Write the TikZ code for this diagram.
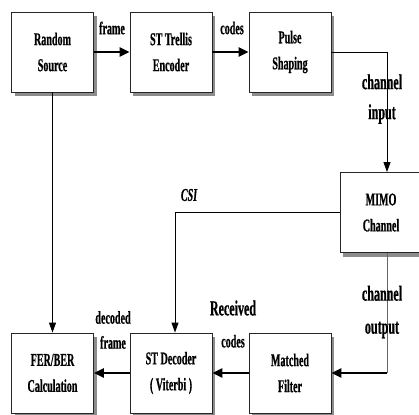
\documentclass[tikz,border=0pt]{standalone}
\usepackage{fontspec}
\usepackage{tikz}
\usetikzlibrary{arrows.meta,shadows}
\newfontfamily\diafont{Liberation Serif}[FakeStretch=0.56,FakeBold=0.6]

\begin{document}
\begin{tikzpicture}[x=1pt,y=-1pt]
        \tikzset{Block/.style={draw=black!85, line width=0.9pt, fill=white,
                minimum width=82pt, minimum height=80pt, align=center,
                font=\diafont\bfseries\fontsize{18}{26}\selectfont,
                drop shadow={shadow xshift=3pt, shadow yshift=-4pt, fill=black!45, opacity=1}}}
        \tikzset{Label/.style={align=center, inner sep=0pt,
                font=\diafont\bfseries\fontsize{18}{25}\selectfont}}
        \tikzset{BigLabel/.style={Label, font=\diafont\bfseries\fontsize{21.5}{30}\selectfont}}
        \tikzset{Thick/.style={line width=2.8pt, -{Triangle[length=10pt,width=9pt]}}}
        \tikzset{Thin/.style={line width=0.9pt, -{Triangle[length=10pt,width=7pt]}}}
        \useasboundingbox (0,0) rectangle (419,414);
        \clip (0,0) rectangle (419,414);
        \fill[white] (0,0) rectangle (419,414);
        \node[Block] (Src) at (52.5,52) {Random\\Source};
        \node[Block] (Enc) at (171,52) {ST Trellis\\Encoder};
        \node[Block] (Pul) at (290,52) {Pulse\\Shaping};
        \node[Block] (Mimo) at (381,212.5) {MIMO\\Channel};
        \node[Block] (Fer) at (52.5,373) {FER/BER\\Calculation};
        \node[Block] (Dec) at (171,373) {ST Decoder\\( Viterbi )};
        \node[Block] (Mf) at (290,373) {Matched\\Filter};
        \draw[Thick] (Src) -- (Enc);
        \draw[Thick] (Enc) -- (Pul);
        \draw[Thin] (Pul.east) -| ([xshift=6pt]Mimo.north);
        \draw[Thin] (Src) -- (Fer);
        \draw[Thin] (Mimo.west) -| ([xshift=4pt]Dec.north);
        \coordinate (Turn) at ([xshift=6pt]Mimo.south |- Mf.east);
        \draw[line width=0.9pt, black!60] ([xshift=6pt]Mimo.south) -- (Turn);
        \draw[Thick] (Turn) -- (Mf.east);
        \draw[Thick] (Mf) -- (Dec);
        \draw[Thick] (Dec) -- (Fer);
        \node[Label] (frameA) at (112,28) {frame};
        \node[Label] (codesA) at (232,28) {codes};
        \node[BigLabel] (chIn) at (382,99) {channel\\input};
        \node[Label, font=\diafont\bfseries\itshape\fontsize{18}{25}\selectfont] (csi) at (189,195) {CSI};
        \node[BigLabel] (recv) at (233,324) {Received\\[2pt]{\fontsize{18}{25}\selectfont codes}};
        \node[Label] (decf) at (113,330) {decoded\\frame};
        \node[BigLabel] (chOut) at (382,312) {channel\\[3pt]output};
\end{tikzpicture}
\end{document}
